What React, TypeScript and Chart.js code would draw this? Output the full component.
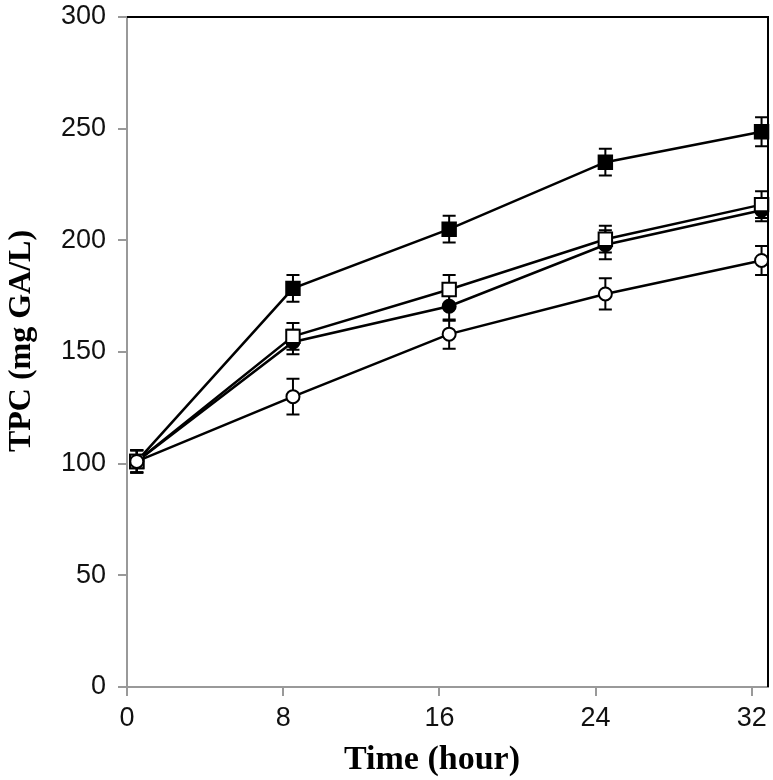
import React, { useEffect, useRef } from "react";
import { Chart, registerables } from "chart.js";

Chart.register(...registerables);

const timePoints = [0.5, 8.5, 16.5, 24.5, 32.5];
const xTicks = [0, 8, 16, 24, 32];
const yTicks = [0, 50, 100, 150, 200, 250, 300];

const filledSquare = [101, 178.5, 205, 235, 248.6];
const filledSquareErr = [5, 6, 6, 6, 6.5];
const openSquare = [101, 157, 178, 200.5, 216];
const openSquareErr = [5, 6, 6.5, 6, 6];
const filledCircle = [101, 154.5, 170.5, 198, 213.5];
const filledCircleErr = [5, 5.5, 6.5, 6.5, 5];
const openCircle = [101, 130, 158, 176, 191];
const openCircleErr = [5, 8, 6.5, 7, 6.5];

const xTitle = "Time (hour)";
const yTitle = "TPC (mg GA/L)";

const errorBarPlugin = {
  id: "errorBars",
  beforeDatasetsDraw(chart: any) {
    const ctx = chart.ctx;
    const yScale = chart.scales.y;
    ctx.save();
    ctx.strokeStyle = "#000";
    ctx.lineWidth = 2;
    chart.data.datasets.forEach((ds: any, di: number) => {
      const meta = chart.getDatasetMeta(di);
      const errs = ds.errors || [];
      meta.data.forEach((pt: any, i: number) => {
        const v = ds.data[i].y;
        const e = errs[i] || 0;
        const yTop = yScale.getPixelForValue(v + e);
        const yBot = yScale.getPixelForValue(v - e);
        const x = pt.x;
        const cap = 6.5;
        ctx.beginPath();
        ctx.moveTo(x, yTop);
        ctx.lineTo(x, yBot);
        ctx.moveTo(x - cap, yTop);
        ctx.lineTo(x + cap, yTop);
        ctx.moveTo(x - cap, yBot);
        ctx.lineTo(x + cap, yBot);
        ctx.stroke();
      });
    });
    ctx.restore();
  },
};

const framePlugin = {
  id: "frame",
  afterDraw(chart: any) {
    const { ctx, chartArea } = chart;
    ctx.save();
    ctx.strokeStyle = "#000";
    ctx.lineWidth = 2;
    ctx.beginPath();
    ctx.moveTo(chartArea.left, chartArea.top);
    ctx.lineTo(chartArea.right, chartArea.top);
    ctx.lineTo(chartArea.right, chartArea.bottom);
    ctx.stroke();
    ctx.fillStyle = "#000";
    ctx.textAlign = "center";
    ctx.textBaseline = "alphabetic";
    ctx.font = "bold 34px 'Liberation Serif', 'Times New Roman', serif";
    ctx.fillText(xTitle, 432, 769);
    ctx.font = "bold 32px 'Liberation Serif', 'Times New Roman', serif";
    ctx.translate(30, 341);
    ctx.rotate(-Math.PI / 2);
    ctx.fillText(yTitle, 0, 0);
    ctx.restore();
  },
};

function mk(label: string, values: number[], errs: number[], style: string, filled: boolean, radius: number) {
  return {
    label,
    data: values.map((v, i) => ({ x: timePoints[i], y: v })),
    errors: errs,
    borderColor: "#000",
    borderWidth: 2.5,
    pointStyle: style,
    pointRadius: radius,
    pointBorderWidth: 2,
    pointBorderColor: "#000",
    pointBackgroundColor: filled ? "#000" : "#fff",
    showLine: true,
    tension: 0,
    clip: false,
  };
}

export default function App() {
  const ref = useRef<HTMLCanvasElement>(null);
  useEffect(() => {
    if (!ref.current) return;
    const chart = new Chart(ref.current, {
      type: "scatter",
      data: {
        datasets: [
          mk("Open circle", openCircle, openCircleErr, "circle", false, 6.5),
          mk("Open square", openSquare, openSquareErr, "rect", false, 9.5),
          mk("Filled circle", filledCircle, filledCircleErr, "circle", true, 6.5),
          mk("Filled square", filledSquare, filledSquareErr, "rect", true, 9.5),
        ] as any,
      },
      options: {
        animation: false,
        responsive: false,
        layout: { autoPadding: false, padding: { top: 17, right: 5, bottom: 0, left: 0 } },
        plugins: { legend: { display: false }, tooltip: { enabled: false } },
        scales: {
          x: {
            type: "linear",
            min: 0,
            max: 32.83,
            afterBuildTicks: (axis: any) => {
              axis.ticks = xTicks.map((v) => ({ value: v }));
            },
            afterFit: (scale: any) => {
              scale.height = 93;
              scale.paddingLeft = 0;
              scale.paddingRight = 0;
            },
            grid: { drawOnChartArea: false, drawTicks: true, tickLength: 9, color: "#999", lineWidth: 2 },
            border: { color: "#999", width: 2 },
            ticks: {
              color: "#111",
              padding: 6,
              maxRotation: 0,
              autoSkip: false,
              font: { family: "'Liberation Sans', Arial, sans-serif", size: 27 },
            },
          },
          y: {
            type: "linear",
            min: 0,
            max: 300,
            afterBuildTicks: (axis: any) => {
              axis.ticks = yTicks.map((v) => ({ value: v }));
            },
            afterFit: (scale: any) => {
              scale.width = 127;
              scale.paddingTop = 0;
              scale.paddingBottom = 0;
            },
            grid: { drawOnChartArea: false, drawTicks: true, tickLength: 9, color: "#999", lineWidth: 2 },
            border: { color: "#999", width: 2 },
            ticks: {
              color: "#111",
              padding: 12,
              font: { family: "'Liberation Sans', Arial, sans-serif", size: 27 },
            },
          },
        },
      } as any,
      plugins: [errorBarPlugin, framePlugin],
    });
    return () => chart.destroy();
  }, []);
  return (
    <div style={{ position: "absolute", left: 0, top: 0, width: 773, height: 780, background: "#fff" }}>
      <canvas ref={ref} width={773} height={780} style={{ width: 773, height: 780 }} />
    </div>
  );
}
